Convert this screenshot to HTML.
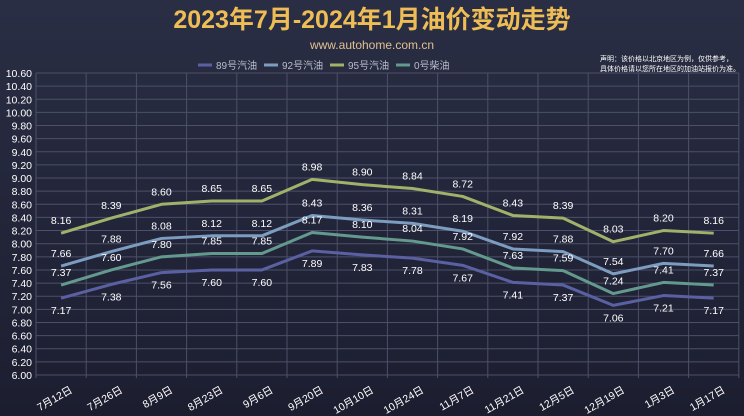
<!DOCTYPE html>
<html><head><meta charset="utf-8"><style>
body{margin:0;width:744px;height:416px;overflow:hidden;background:#23263a;}
svg{display:block}
</style></head><body>
<svg id="s" width="744" height="416" xmlns="http://www.w3.org/2000/svg" font-family="Liberation Sans, Noto Sans CJK SC, sans-serif">
<defs><linearGradient id="bg" x1="0" y1="0" x2="0" y2="1"><stop offset="0" stop-color="#2a2e44"/><stop offset="1" stop-color="#1c1e30"/></linearGradient></defs>
<rect width="744" height="416" fill="url(#bg)"/>
<text x="372" y="28" text-anchor="middle" font-size="25" font-weight="bold" fill="#eebd55" font-family="Liberation Sans, Noto Sans CJK SC, sans-serif">2023年7月-2024年1月油价变动走势</text>
<text x="372" y="49" text-anchor="middle" font-size="12" fill="#e0c090">www.autohome.com.cn</text>
<g font-size="10" fill="#b8bccc">
<line x1="198" y1="65" x2="212" y2="65" stroke="#5a60a2" stroke-width="3"/><text x="216" y="69">89号汽油</text>
<line x1="264" y1="65" x2="278" y2="65" stroke="#7c9cc0" stroke-width="3"/><text x="282" y="69">92号汽油</text>
<line x1="330" y1="65" x2="344" y2="65" stroke="#a0b26a" stroke-width="3"/><text x="348" y="69">95号汽油</text>
<line x1="396" y1="65" x2="410" y2="65" stroke="#64998e" stroke-width="3"/><text x="414" y="69">0号柴油</text>
</g>
<text x="600" y="61" font-size="7" fill="#fff">声明：该价格以北京地区为例，仅供参考，</text>
<text x="600" y="71" font-size="7" fill="#fff">具体价格请以您所在地区的加油站报价为准。</text>
<g id="g"></g>
</svg>
<script>
const g=document.getElementById('g');const NS='http://www.w3.org/2000/svg';
function el(t,a,txt){const e=document.createElementNS(NS,t);for(const k in a)e.setAttribute(k,a[k]);if(txt!==undefined)e.textContent=txt;g.appendChild(e);return e;}
const y=v=>73+(10.6-v)*65.65, X0=36, W=50.2;
for(let i=0;i<=23;i++){const v=6+i*0.2;el('line',{x1:X0,x2:739,y1:y(v),y2:y(v),stroke:'#4c5068','stroke-width':1});el('text',{x:32,y:y(v)+4,'text-anchor':'end','font-size':10.5,fill:'#fff'},v.toFixed(2));}
for(let i=0;i<=14;i++){el('line',{x1:X0+W*i,x2:X0+W*i,y1:73,y2:378,stroke:'#4c5068','stroke-width':1});}
const cats=['7月12日','7月26日','8月9日','8月23日','9月6日','9月20日','10月10日','10月24日','11月7日','11月21日','12月5日','12月19日','1月3日','1月17日'];
cats.forEach((c,i)=>{const cx=X0+W*(i+0.5);el('text',{x:cx+12,y:392,'text-anchor':'end','font-size':10.5,fill:'#fff',transform:`rotate(-30 ${cx+12} 392)`},c);});
const S=[['#a0b26a',[8.16,8.39,8.60,8.65,8.65,8.98,8.90,8.84,8.72,8.43,8.39,8.03,8.20,8.16]],
['#7c9cc0',[7.66,7.88,8.08,8.12,8.12,8.43,8.36,8.31,8.19,7.92,7.88,7.54,7.70,7.66]],
['#64998e',[7.37,7.60,7.80,7.85,7.85,8.17,8.10,8.04,7.92,7.63,7.59,7.24,7.41,7.37]],
['#5a60a2',[7.17,7.38,7.56,7.60,7.60,7.89,7.83,7.78,7.67,7.41,7.37,7.06,7.21,7.17]]];
S.forEach(([c,d],si)=>{el('polyline',{points:d.map((v,i)=>`${X0+W*(i+0.5)},${y(v)}`).join(' '),fill:'none',stroke:c,'stroke-width':3,'stroke-linejoin':'round'});});
S.forEach(([c,d],si)=>{d.forEach((v,i)=>{const off=si==3?16:-9;el('text',{x:X0+W*(i+0.5),y:y(v)+off,'text-anchor':'middle','font-size':10.5,fill:'#fff'},v.toFixed(2));});});
</script>
</body></html>
